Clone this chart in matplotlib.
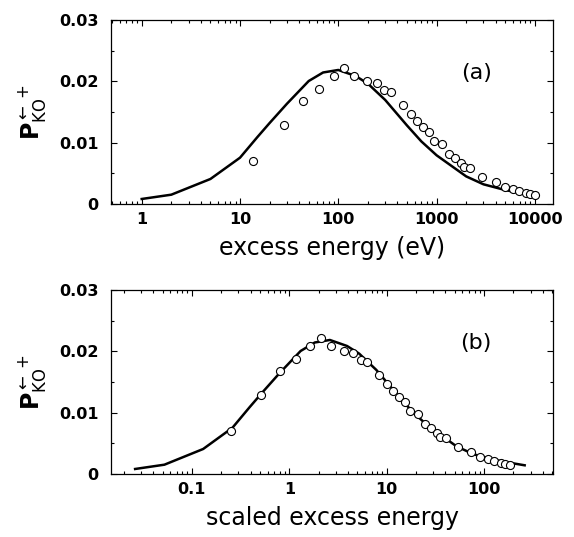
import numpy as np
import matplotlib

matplotlib.use("Agg")
import matplotlib.pyplot as plt

# values
# measured points (open circles), excess energy in eV
exp_energy = [13.6, 28.0, 43.4, 63.6, 89.8, 115, 144.5, 197, 246, 294, 344, 452, 549, 628, 733,
              837, 948, 1143, 1336, 1538, 1770, 1914, 2187, 2917, 3992, 4963, 5943, 6890, 8054,
              8913, 10020]
exp_prob = [0.00696, 0.01288, 0.0168, 0.01875, 0.02082, 0.02222, 0.02087, 0.0201, 0.01978,
            0.01854, 0.01831, 0.0161, 0.01463, 0.01358, 0.01251, 0.01169, 0.01032, 0.00973,
            0.00815, 0.0075, 0.00673, 0.00608, 0.00582, 0.00445, 0.00354, 0.00282, 0.0024,
            0.00212, 0.00184, 0.00163, 0.00147]

# calculated curve (solid line)
calc_energy = [1, 2, 5, 10, 15, 20, 30, 50, 70, 100, 150, 200, 300, 500, 700, 1000, 2000, 3000,
               5000, 7000, 10000]
calc_prob = [0.00082, 0.00152, 0.00408, 0.00755, 0.0109, 0.0132, 0.01634, 0.02005, 0.02144,
             0.02185, 0.02087, 0.01962, 0.01696, 0.0128, 0.0102, 0.00794, 0.0045, 0.00321,
             0.00227, 0.00184, 0.00142]

# energies used to scale the two sets in panel (b)
exp_scale = 54.4
calc_scale = 38.3

xticks_a = [1, 10, 100, 1000, 10000]
xticks_b = [0.1, 1, 10, 100]
yticks = [0, 0.01, 0.02, 0.03]
ylabels = ["0", "0.01", "0.02", "0.03"]

plt.rcParams["font.family"] = ["DejaVu Sans"]
plt.rcParams["mathtext.fontset"] = "dejavusans"

fig = plt.figure(figsize=(5.74, 5.37), dpi=100)
ax_a = fig.add_axes([0.1934, 0.6201, 0.77, 0.3427])
ax_b = fig.add_axes([0.1934, 0.1173, 0.77, 0.3427])


def style_axis(ax, xticks, xlim, tag, xlabel):
    ax.set_xscale("log")
    ax.set_xlim(*xlim)
    ax.set_ylim(0, 0.03)
    ax.set_xticks(xticks)
    ax.set_xticklabels([("%g" % t) for t in xticks], fontweight="bold", fontsize=11.5)
    ax.set_yticks(yticks)
    ax.set_yticklabels(ylabels, fontweight="bold", fontsize=11.5)
    ax.set_yticks([0.005, 0.015, 0.025], minor=True)
    ax.tick_params(which="both", direction="in", top=True, right=True, width=0.8)
    ax.tick_params(which="major", length=4)
    ax.tick_params(which="minor", length=2.2)
    ax.tick_params(axis="y", which="major", pad=9)
    ax.tick_params(axis="x", which="major", pad=6)
    for s in ax.spines.values():
        s.set_linewidth(0.9)
    ax.set_xlabel(xlabel, fontsize=17, labelpad=6)
    ax.set_ylabel(r"$\mathbf{P}_{\mathrm{KO}}^{\leftarrow+}$", fontsize=17, labelpad=8)
    ax.text(0.826, 0.71, tag, transform=ax.transAxes, fontsize=16, ha="center", va="center")


# panel (a)
ax_a.plot(calc_energy, calc_prob, color="black", lw=1.8)
ax_a.plot(exp_energy, exp_prob, linestyle="none", marker="o", ms=5.8, mfc="white",
          mec="black", mew=0.8)
style_axis(ax_a, xticks_a, (0.487, 15280), "(a)", "excess energy (eV)")

# panel (b)
ax_b.plot(np.array(calc_energy) / calc_scale, calc_prob, color="black", lw=1.8)
ax_b.plot(np.array(exp_energy) / exp_scale, exp_prob, linestyle="none", marker="o", ms=5.8,
          mfc="white", mec="black", mew=0.8)
style_axis(ax_b, xticks_b, (0.01477, 510), "(b)", "scaled excess energy")

fig.savefig("out.png", dpi=100)
